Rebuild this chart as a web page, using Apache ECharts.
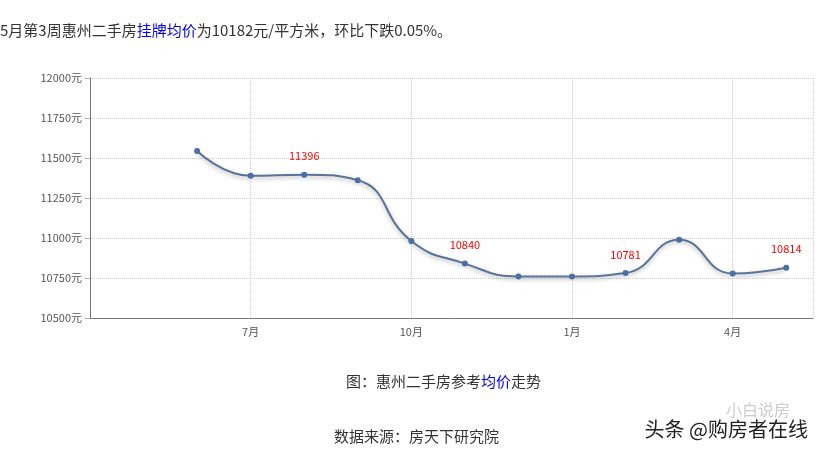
<!DOCTYPE html>
<html><head><meta charset="utf-8">
<script src="https://cdn.jsdelivr.net/npm/echarts@6/dist/echarts.min.js"></script>
<style>body{margin:0;background:#fff}#c{width:831px;height:454px}</style></head>
<body><div id="c"></div>
<script>
const xIndex = [2,3,4,5,6,7,8,9,10,11,12,13];
const prices = [11544,11389,11396,11361,10981,10840,10760,10760,10781,10989,10778,10814];
const labelled = [11396,10840,10781,10814];
const tickLabels = {3:'7月',6:'10月',9:'1月',12:'4月'};
const yTicks = [10500,10750,11000,11250,11500,11750,12000];

const chart = echarts.init(document.getElementById('c'));
const ff = '"Microsoft YaHei","Noto Sans CJK SC",sans-serif';
chart.setOption({
  animation:false,
  textStyle:{fontFamily:ff},
  grid:{left:90,right:18,top:78,bottom:136},
  xAxis:{type:'value',min:0,max:13.5,interval:3,
    axisLine:{lineStyle:{color:'#777'}},
    axisTick:{show:false},
    axisLabel:{color:'#555',fontSize:11,formatter:v=>tickLabels[v]||'',showMaxLabel:false},
    splitLine:{show:true,lineStyle:{type:'dotted',color:'#ccc'}}},
  yAxis:{type:'value',min:yTicks[0],max:yTicks[yTicks.length-1],interval:250,
    axisLine:{show:true,lineStyle:{color:'#777'}},
    axisTick:{show:true,length:5,lineStyle:{color:'#aac'}},
    axisLabel:{color:'#555',fontSize:11,formatter:v=>String(v)+'元'},
    splitLine:{lineStyle:{type:'dotted',color:'#ccc'}}},
  series:[{type:'line',smooth:true,symbol:'circle',symbolSize:6,
    data:xIndex.map((x,i)=>({value:[x,prices[i]],
      label:{show:labelled.includes(prices[i]),position:'top',distance:10,color:'#f00',fontSize:11}})),
    itemStyle:{color:'#4a6fa5'},
    lineStyle:{color:'#5a7399',width:2,shadowColor:'rgba(0,0,0,0.3)',shadowBlur:4,shadowOffsetY:2}}],
  graphic:[
    {type:'text',left:0,top:23,style:{text:'5月第3周惠州二手房{b|挂牌均价}为10182元/平方米，环比下跌0.05%。',
      rich:{b:{fill:'#00f',fontSize:15,fontFamily:ff}},fontSize:15,fill:'#333',fontFamily:ff}},
    {type:'text',left:346,top:374,style:{text:'图：惠州二手房参考{b|均价}走势',
      rich:{b:{fill:'#00f',fontSize:15,fontFamily:ff}},fontSize:15,fill:'#333',fontFamily:ff}},
    {type:'text',left:334,top:429,style:{text:'数据来源：房天下研究院',fontSize:15,fill:'#333',fontFamily:ff}},
    {type:'text',left:726,top:402,style:{text:'小白说房',fontSize:16,fill:'#ccc',fontFamily:ff}},
    {type:'text',left:643,top:418,style:{text:'头条 @购房者在线',fontSize:20,fill:'#222',fontFamily:ff,stroke:'#fff',lineWidth:3}}
  ]
});
</script></body></html>
